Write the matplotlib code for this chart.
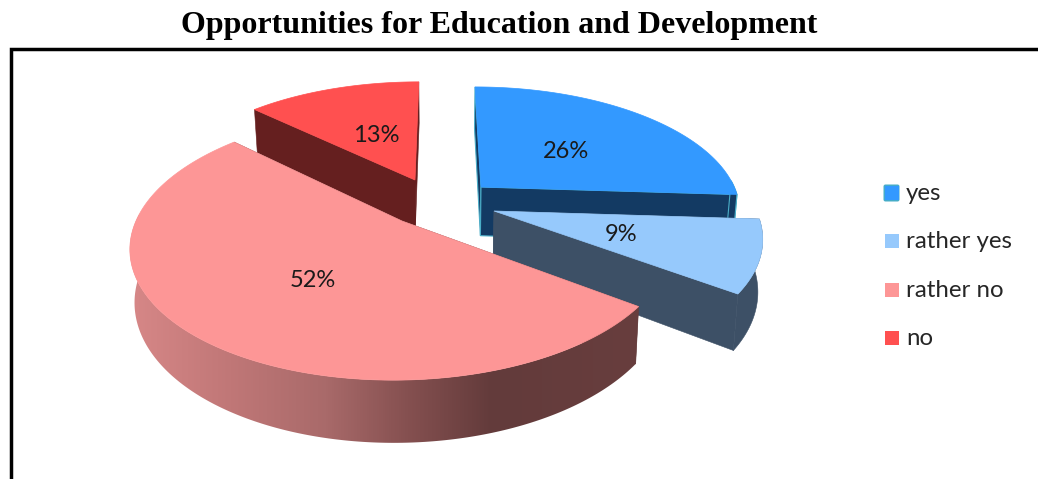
import numpy as np
import matplotlib
matplotlib.use("Agg")
import matplotlib.pyplot as plt
from matplotlib.colors import LinearSegmentedColormap
from matplotlib.patches import Polygon, Rectangle, FancyBboxPatch

title = "Opportunities for Education and Development"
categories = ["yes", "rather yes", "rather no", "no"]
shares = [26, 9, 52, 13]

top_colors = ["#3399ff", "#96c9fc", "#fd9696", "#ff5050"]
cut_colors = ["#133a63", "#3d5066", "#633c3c", "#651f1f"]
edge_colors = ["#4aaec8", None, None, None]
apex_xy = [(481, 187), (494, 211), (402, 221), (415, 180)]
share_label_xy = [(566, 151.5), (621, 234.5), (313, 280.5), (376, 136)]
legend_y = [193, 241, 290, 338]

# Perspective camera for the pie plane (all lengths in canvas pixels)
CX, CY = 441, 205
RADIUS, FORESHORTEN, PERSP = 260, 124, 0.18
DEPTH = 50
TAPER = 0.015


def project(u, v):
    s = 1 / (1 + PERSP * v)
    return CX + RADIUS * u * s, CY - FORESHORTEN * v * s, s


def unproject(x, y):
    w = (CY - y) / FORESHORTEN
    v = w / (1 - PERSP * w)
    return (x - CX) * (1 + PERSP * v) / RADIUS, v


def point(th, off, r=1.0, drop=0.0):
    u = off[0] + r * np.sin(th)
    v = off[1] + r * np.cos(th)
    x, y, s = project(u, v)
    # The lower rim sits further from the camera, so it narrows slightly
    x = CX + (x - CX) * (1 - TAPER * drop / DEPTH)
    return np.column_stack([np.atleast_1d(x), np.atleast_1d(y + drop * s)])


# Shading of the large slice's outer wall, left to right across the canvas
RAMP_LEFT, RAMP_RIGHT = 125, 645
ramp_x = [125, 230, 325, 408, 492, 645]
ramp_colors = ["#d88888", "#c07777", "#a96a6a", "#855050", "#633b3b", "#683e3e"]
wall_shade = LinearSegmentedColormap.from_list(
    "wall", [((x - RAMP_LEFT) / (RAMP_RIGHT - RAMP_LEFT), c)
             for x, c in zip(ramp_x, ramp_colors)])

fig = plt.figure(figsize=(10.38, 4.79), dpi=100, facecolor="white")
ax = fig.add_axes([0, 0, 1, 1])
ax.axis("off")

# Frame open to the right and the bottom
ax.plot([10.5, 10.5, 1038], [479, 48.5, 48.5], color="black", lw=2.5,
        solid_joinstyle="miter", zorder=1)

ax.text(499, 25, title, ha="center", va="center", fontsize=23,
        fontweight="bold", family="Liberation Serif", color="black")

# Slices run clockwise from twelve o'clock
ends = np.cumsum(shares) / np.sum(shares) * 2 * np.pi
starts = ends - 2 * np.pi * np.array(shares) / np.sum(shares)
paint_order = [3, 0, 1, 2]

for z, i in enumerate(paint_order):
    a0, a1 = starts[i], ends[i]
    off = unproject(*apex_xy[i])
    base = 10 + z * 5
    edge = edge_colors[i]
    kw = dict(edgecolor=edge if edge else cut_colors[i], lw=0.8 if edge else 0.4)

    # Radial cut faces, far one first
    faces = []
    for a in (a0, a1):
        apex_t = point(a, off, r=0.0)[0]
        rim_t = point(a, off)[0]
        apex_b = point(a, off, r=0.0, drop=DEPTH)[0]
        rim_b = point(a, off, drop=DEPTH)[0]
        faces.append((np.cos(a), [apex_t, rim_t, rim_b, apex_b]))
    faces.sort(key=lambda f: -f[0])
    for _, quad in faces:
        ax.add_patch(Polygon(quad, closed=True, facecolor=cut_colors[i],
                             zorder=base, **kw))

    # Outer wall: only the part turned towards the camera
    th = np.linspace(a0, a1, 240)
    th = th[np.cos(th) < 0.06]
    if th.size > 1:
        t = point(th, off)
        b = point(th, off, drop=DEPTH)
        outline = np.vstack([t, b[::-1]])
        if categories[i] == "rather no":
            wall = Polygon(outline, closed=True, facecolor="none", edgecolor="none",
                           zorder=base + 1)
            ax.add_patch(wall)
            ramp = ax.imshow(np.linspace(0, 1, 512)[None, :], cmap=wall_shade,
                             extent=(RAMP_LEFT, RAMP_RIGHT, 479, 0), aspect="auto",
                             zorder=base + 1)
            ramp.set_clip_path(wall)
        else:
            ax.add_patch(Polygon(outline, closed=True, facecolor=cut_colors[i],
                                 zorder=base + 1, **kw))

    # Top surface
    th = np.linspace(a0, a1, 240)
    rim = point(th, off)
    apex = point(a0, off, r=0.0)
    ax.add_patch(Polygon(np.vstack([apex, rim]), closed=True,
                         facecolor=top_colors[i], edgecolor=top_colors[i],
                         lw=0.5, zorder=base + 2))

for share, (x, y) in zip(shares, share_label_xy):
    ax.text(x, y, f"{share}%", ha="center", va="center", fontsize=17,
            family="Lato", color="#1a1a1a", zorder=40)

# Legend
ax.add_patch(FancyBboxPatch((883.5, 184.5), 16, 17, boxstyle="round,pad=0,rounding_size=2",
                            facecolor="#45acc8", edgecolor="none", zorder=30))
for name, col, y in zip(categories, top_colors, legend_y):
    ax.add_patch(Rectangle((885, y - 7), 14, 14, facecolor=col, edgecolor="none", zorder=31))
    ax.text(906, y + 0.5, name, ha="left", va="center", fontsize=17.3,
            family="Lato", color="#262626", zorder=31)

ax.set_xlim(0, 1038)
ax.set_ylim(479, 0)
fig.savefig("out.png", dpi=100, facecolor="white")
